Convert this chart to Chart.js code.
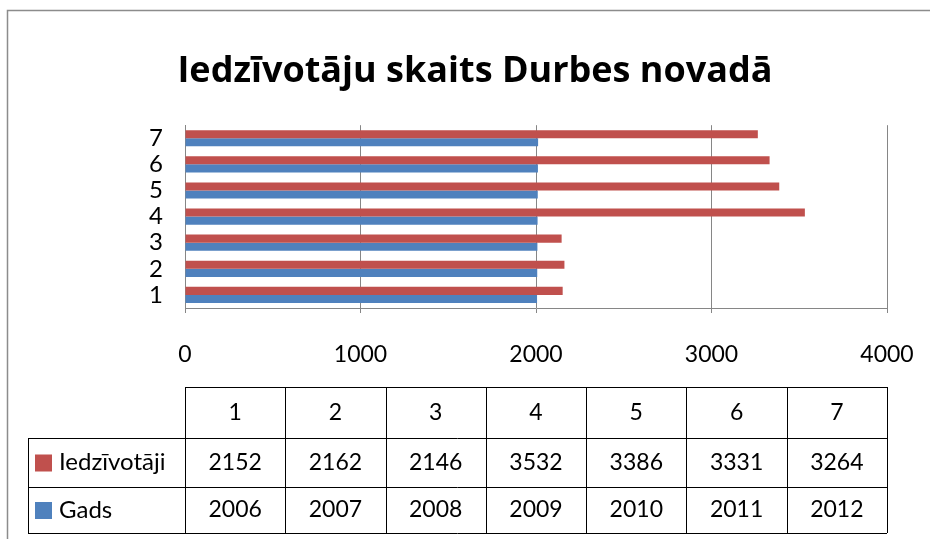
<!DOCTYPE html>
<html>
<head>
<meta charset="utf-8">
<script src="https://cdn.jsdelivr.net/npm/chart.js@4/dist/chart.umd.min.js"></script>
<style>
  html, body { margin: 0; padding: 0; background: #fff; }
  #wrap { width: 930px; height: 539px; position: relative; }
</style>
</head>
<body>
<div id="wrap"><canvas id="chart"></canvas></div>
<script>
const categories = ['1', '2', '3', '4', '5', '6', '7'];
const iedzivotaji = [2152, 2162, 2146, 3532, 3386, 3331, 3264];
const gads = [2006, 2007, 2008, 2009, 2010, 2011, 2012];
const seriesNames = ['Iedzīvotāji', 'Gads'];
const xTicks = [0, 1000, 2000, 3000, 4000];

const FONT = 'Lato, "Open Sans", sans-serif';
const TITLE_FONT = '"Open Sans", Lato, sans-serif';
const RED = '#C0504D';
const BLUE = '#4F81BD';

// grey frame around the chart (left and top edges visible)
const framePlugin = {
    id: 'frame',
    beforeDraw(chart) {
        const ctx = chart.ctx;
        ctx.save();
        ctx.strokeStyle = '#8c8c8c';
        ctx.lineWidth = 1.5;
        ctx.beginPath();
        ctx.moveTo(7.5, 539);
        ctx.lineTo(7.5, 10.5);
        ctx.lineTo(930, 10.5);
        ctx.stroke();
        ctx.restore();
    }
};

// data table under the axis, columns follow the chart area
const tablePlugin = {
    id: 'dataTable',
    afterDraw(chart) {
        const ctx = chart.ctx;
        const area = chart.chartArea;
        const rows = [387, 438, 487, 533];
        const legendLeft = 28;
        const colW = (area.right - area.left) / categories.length;
        ctx.save();
        ctx.strokeStyle = '#000';
        ctx.lineWidth = 1;
        ctx.beginPath();
        // header top
        ctx.moveTo(area.left, rows[0] + 0.5);
        ctx.lineTo(area.right, rows[0] + 0.5);
        for (let r = 1; r < rows.length; r++) {
            ctx.moveTo(legendLeft, rows[r] + 0.5);
            ctx.lineTo(area.right, rows[r] + 0.5);
        }
        ctx.moveTo(legendLeft + 0.5, rows[1]);
        ctx.lineTo(legendLeft + 0.5, rows[3]);
        for (let c = 0; c <= categories.length; c++) {
            const x = Math.round(area.left + c * colW) + 0.5;
            ctx.moveTo(x, rows[0]);
            ctx.lineTo(x, rows[3]);
        }
        ctx.stroke();

        ctx.fillStyle = '#000';
        ctx.font = '23px ' + FONT;
        ctx.textAlign = 'center';
        ctx.textBaseline = 'middle';
        const datasets = chart.data.datasets;
        categories.forEach((cat, i) => {
            const cx = area.left + (i + 0.5) * colW;
            ctx.fillText(cat, cx, (rows[0] + rows[1]) / 2);
            datasets.forEach((ds, d) => {
                ctx.fillText(String(ds.data[i]), cx, (rows[d + 1] + rows[d + 2]) / 2);
            });
        });
        // legend keys
        ctx.textAlign = 'left';
        ctx.font = '24px ' + FONT;
        datasets.forEach((ds, d) => {
            const cy = (rows[d + 1] + rows[d + 2]) / 2;
            ctx.fillStyle = ds.backgroundColor;
            ctx.fillRect(35, cy - 8, 17, 17);
            ctx.fillStyle = '#000';
            ctx.fillText(ds.label, 59, cy);
        });
        ctx.restore();
    }
};

new Chart(document.getElementById('chart').getContext('2d'), {
    type: 'bar',
    data: {
        labels: categories,
        datasets: [{
            label: seriesNames[0],
            data: iedzivotaji,
            backgroundColor: RED
        }, {
            label: seriesNames[1],
            data: gads,
            backgroundColor: BLUE
        }]
    },
    options: {
        indexAxis: 'y',
        responsive: true,
        maintainAspectRatio: false,
        animation: false,
        categoryPercentage: 0.62,
        barPercentage: 1,
        layout: {
            padding: { left: 63, right: 43, top: 0, bottom: 171 }
        },
        plugins: {
            legend: { display: false },
            tooltip: { enabled: false },
            title: {
                display: true,
                text: 'Iedzīvotāju skaits Durbes novadā',
                color: '#000',
                font: { family: TITLE_FONT, size: 36, weight: 'bold', lineHeight: 1.2 },
                padding: { top: 50, bottom: 32 }
            }
        },
        scales: {
            x: {
                min: 0,
                max: 4000,
                afterBuildTicks(scale) {
                    scale.ticks = xTicks.map(v => ({ value: v }));
                },
                afterFit(scale) {
                    scale.height = 60;
                    scale.paddingLeft = 0;
                    scale.paddingRight = 0;
                },
                grid: {
                    color: '#868686',
                    lineWidth: 1,
                    drawTicks: true,
                    tickLength: 5,
                    tickColor: '#868686'
                },
                border: { color: '#868686', width: 1 },
                ticks: {
                    color: '#000',
                    padding: 28,
                    maxRotation: 0,
                    font: { family: FONT, size: 23 },
                    callback: v => String(v)
                }
            },
            y: {
                reverse: true,
                afterFit(scale) { scale.width = 122; },
                grid: { display: false },
                border: { color: '#868686', width: 1 },
                ticks: {
                    color: '#000',
                    padding: 14,
                    autoSkip: false,
                    font: { family: FONT, size: 24 }
                }
            }
        }
    },
    plugins: [framePlugin, tablePlugin]
});
</script>
</body>
</html>
